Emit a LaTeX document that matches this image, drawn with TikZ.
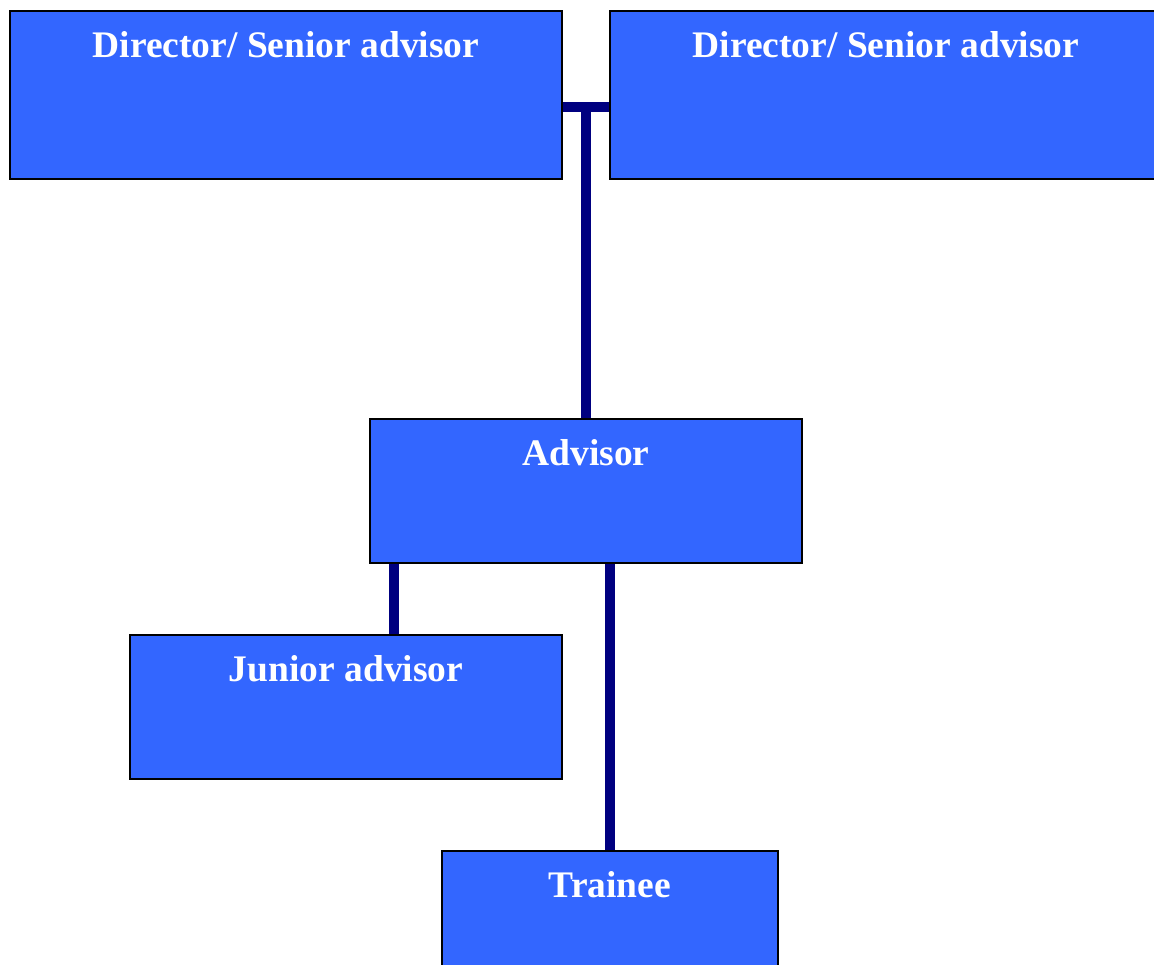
\documentclass[tikz,border=0pt]{standalone}
\usepackage{fontspec}
\setmainfont{Liberation Serif}
\usetikzlibrary{calc,backgrounds}
\definecolor{boxblue}{HTML}{3366FF}
\definecolor{connavy}{HTML}{000080}
\tikzset{
  orgbox/.style={draw=black, line width=2pt, fill=boxblue, rectangle, inner sep=0pt, outer sep=0pt},
  lbl/.style={text=white, font=\fontsize{37.5}{40}\selectfont\bfseries, inner sep=0pt, anchor=base},
  conn/.style={draw=connavy, line width=10pt}
}
\begin{document}
\begin{tikzpicture}[x=1pt, y=-1pt]
\useasboundingbox (0,0) rectangle (1154,964);
\clip (0,0) rectangle (1154,964);
% boxes
\node[orgbox, minimum width=552pt, minimum height=168pt] (d1) at (286,95) {};
\node[orgbox, minimum width=552pt, minimum height=168pt] (d2) at (886,95) {};
\node[orgbox, minimum width=432pt, minimum height=144pt] (adv) at (586,491) {};
\node[orgbox, minimum width=432pt, minimum height=144pt] (jun) at (346,707) {};
\node[orgbox, minimum width=336pt, minimum height=144pt] (tr) at (610,923) {};
% connectors (under boxes)
\coordinate (j) at (586,107);
\coordinate (jtop) at (586,102);
\coordinate (jx) at (394,0);
\begin{scope}[on background layer]
\draw[conn] (d1.east |- j) -- (d2.west |- j);
\draw[conn] (jtop) -- (adv.north);
\draw[conn] (adv.south -| jx) -- (jun.north -| jx);
\draw[conn] (adv.south -| tr.north) -- (tr.north);
\end{scope}
% labels
\node[lbl] (t1) at ($(d1.north)+(0,46.5)$) {Director/ Senior advisor};
\node[lbl] (t2) at ($(d2.north)+(0,46.5)$) {Director/ Senior advisor};
\node[lbl] (t3) at ($(adv.north)+(0,46.5)$) {Advisor};
\node[lbl] (t4) at ($(jun.north)+(0,46.5)$) {Junior advisor};
\node[lbl] (t5) at ($(tr.north)+(0,46.5)$) {Trainee};
\end{tikzpicture}
\end{document}
